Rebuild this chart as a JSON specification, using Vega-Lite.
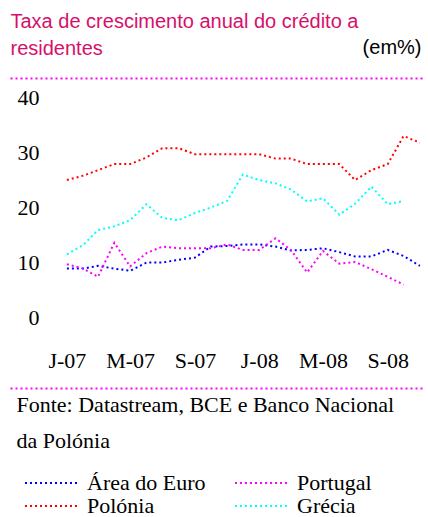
{
  "$schema": "https://vega.github.io/schema/vega-lite/v6.json",
  "width": 412,
  "height": 220,
  "autosize": {"type": "none"},
  "padding": {"left": 10, "top": 97, "right": 6, "bottom": 200},
  "background": "white",
  "config": {
    "view": {"stroke": null},
    "axis": {"grid": false, "labelFont": "Liberation Serif", "labelFontSize": 22, "labelColor": "#000000"},
    "legend": {"labelFont": "Liberation Serif"}
  },
  "datasets": {
    "credit": [
      {"series": "Área do Euro", "date": "2007-01-01", "value": 8.8},
      {"series": "Área do Euro", "date": "2007-02-01", "value": 8.8},
      {"series": "Área do Euro", "date": "2007-03-01", "value": 9.3},
      {"series": "Área do Euro", "date": "2007-04-01", "value": 8.8},
      {"series": "Área do Euro", "date": "2007-05-01", "value": 8.4},
      {"series": "Área do Euro", "date": "2007-06-01", "value": 9.9},
      {"series": "Área do Euro", "date": "2007-07-01", "value": 9.9},
      {"series": "Área do Euro", "date": "2007-08-01", "value": 10.4},
      {"series": "Área do Euro", "date": "2007-09-01", "value": 10.8},
      {"series": "Área do Euro", "date": "2007-10-01", "value": 12.8},
      {"series": "Área do Euro", "date": "2007-11-01", "value": 12.9},
      {"series": "Área do Euro", "date": "2007-12-01", "value": 13.2},
      {"series": "Área do Euro", "date": "2008-01-01", "value": 13.2},
      {"series": "Área do Euro", "date": "2008-02-01", "value": 12.8},
      {"series": "Área do Euro", "date": "2008-03-01", "value": 12.1},
      {"series": "Área do Euro", "date": "2008-04-01", "value": 12.2},
      {"series": "Área do Euro", "date": "2008-05-01", "value": 12.5},
      {"series": "Área do Euro", "date": "2008-06-01", "value": 11.8},
      {"series": "Área do Euro", "date": "2008-07-01", "value": 11.0},
      {"series": "Área do Euro", "date": "2008-08-01", "value": 11.0},
      {"series": "Área do Euro", "date": "2008-09-01", "value": 12.2},
      {"series": "Área do Euro", "date": "2008-10-01", "value": 11.1},
      {"series": "Área do Euro", "date": "2008-11-01", "value": 9.3},
      {"series": "Polónia", "date": "2007-01-01", "value": 24.9},
      {"series": "Polónia", "date": "2007-02-01", "value": 25.7},
      {"series": "Polónia", "date": "2007-03-01", "value": 26.7},
      {"series": "Polónia", "date": "2007-04-01", "value": 27.8},
      {"series": "Polónia", "date": "2007-05-01", "value": 27.8},
      {"series": "Polónia", "date": "2007-06-01", "value": 29.0},
      {"series": "Polónia", "date": "2007-07-01", "value": 30.7},
      {"series": "Polónia", "date": "2007-08-01", "value": 30.7},
      {"series": "Polónia", "date": "2007-09-01", "value": 29.6},
      {"series": "Polónia", "date": "2007-10-01", "value": 29.6},
      {"series": "Polónia", "date": "2007-11-01", "value": 29.6},
      {"series": "Polónia", "date": "2007-12-01", "value": 29.6},
      {"series": "Polónia", "date": "2008-01-01", "value": 29.6},
      {"series": "Polónia", "date": "2008-02-01", "value": 28.8},
      {"series": "Polónia", "date": "2008-03-01", "value": 28.8},
      {"series": "Polónia", "date": "2008-04-01", "value": 27.8},
      {"series": "Polónia", "date": "2008-05-01", "value": 27.8},
      {"series": "Polónia", "date": "2008-06-01", "value": 27.8},
      {"series": "Polónia", "date": "2008-07-01", "value": 24.9},
      {"series": "Polónia", "date": "2008-08-01", "value": 26.7},
      {"series": "Polónia", "date": "2008-09-01", "value": 27.8},
      {"series": "Polónia", "date": "2008-10-01", "value": 32.9},
      {"series": "Polónia", "date": "2008-11-01", "value": 31.7},
      {"series": "Portugal", "date": "2007-01-01", "value": 9.6},
      {"series": "Portugal", "date": "2007-02-01", "value": 8.8},
      {"series": "Portugal", "date": "2007-03-01", "value": 7.3},
      {"series": "Portugal", "date": "2007-04-01", "value": 13.5},
      {"series": "Portugal", "date": "2007-05-01", "value": 9.2},
      {"series": "Portugal", "date": "2007-06-01", "value": 11.6},
      {"series": "Portugal", "date": "2007-07-01", "value": 12.8},
      {"series": "Portugal", "date": "2007-08-01", "value": 12.5},
      {"series": "Portugal", "date": "2007-09-01", "value": 12.5},
      {"series": "Portugal", "date": "2007-10-01", "value": 12.5},
      {"series": "Portugal", "date": "2007-11-01", "value": 13.2},
      {"series": "Portugal", "date": "2007-12-01", "value": 12.2},
      {"series": "Portugal", "date": "2008-01-01", "value": 12.2},
      {"series": "Portugal", "date": "2008-02-01", "value": 14.3},
      {"series": "Portugal", "date": "2008-03-01", "value": 12.2},
      {"series": "Portugal", "date": "2008-04-01", "value": 8.1},
      {"series": "Portugal", "date": "2008-05-01", "value": 12.0},
      {"series": "Portugal", "date": "2008-06-01", "value": 9.7},
      {"series": "Portugal", "date": "2008-07-01", "value": 10.0},
      {"series": "Portugal", "date": "2008-08-01", "value": 8.7},
      {"series": "Portugal", "date": "2008-09-01", "value": 7.3},
      {"series": "Portugal", "date": "2008-10-01", "value": 5.9},
      {"series": "Grécia", "date": "2007-01-01", "value": 11.4},
      {"series": "Grécia", "date": "2007-02-01", "value": 13.1},
      {"series": "Grécia", "date": "2007-03-01", "value": 15.8},
      {"series": "Grécia", "date": "2007-04-01", "value": 16.5},
      {"series": "Grécia", "date": "2007-05-01", "value": 17.6},
      {"series": "Grécia", "date": "2007-06-01", "value": 20.5},
      {"series": "Grécia", "date": "2007-07-01", "value": 18.0},
      {"series": "Grécia", "date": "2007-08-01", "value": 17.6},
      {"series": "Grécia", "date": "2007-09-01", "value": 18.9},
      {"series": "Grécia", "date": "2007-10-01", "value": 19.9},
      {"series": "Grécia", "date": "2007-11-01", "value": 21.1},
      {"series": "Grécia", "date": "2007-12-01", "value": 25.9},
      {"series": "Grécia", "date": "2008-01-01", "value": 24.9},
      {"series": "Grécia", "date": "2008-02-01", "value": 24.3},
      {"series": "Grécia", "date": "2008-03-01", "value": 23.2},
      {"series": "Grécia", "date": "2008-04-01", "value": 21.0},
      {"series": "Grécia", "date": "2008-05-01", "value": 21.6},
      {"series": "Grécia", "date": "2008-06-01", "value": 18.6},
      {"series": "Grécia", "date": "2008-07-01", "value": 20.6},
      {"series": "Grécia", "date": "2008-08-01", "value": 23.7},
      {"series": "Grécia", "date": "2008-09-01", "value": 20.5},
      {"series": "Grécia", "date": "2008-10-01", "value": 21.1}
    ]
  },
  "data": {"name": "credit"},
  "resolve": {"axis": {"x": "independent"}},
  "layer": [
    {
      "mark": {"type": "line", "strokeWidth": 2, "strokeDash": [2, 3]},
      "encoding": {
        "x": {
          "field": "date",
          "type": "temporal",
          "scale": {
            "type": "utc",
            "nice": false,
            "domain": [
              {"year": 2006, "month": 9, "date": 15, "utc": true},
              {"year": 2008, "month": 11, "date": 5, "utc": true}
            ]
          },
          "axis": {
            "orient": "bottom",
            "offset": 71,
            "values": [
              {"year": 2007, "month": 1, "date": 1, "utc": true},
              {"year": 2007, "month": 5, "date": 1, "utc": true},
              {"year": 2007, "month": 9, "date": 1, "utc": true},
              {"year": 2008, "month": 1, "date": 1, "utc": true},
              {"year": 2008, "month": 5, "date": 1, "utc": true},
              {"year": 2008, "month": 9, "date": 1, "utc": true}
            ],
            "labelExpr": "slice(utcFormat(datum.value, '%b'), 0, 1) + '-' + utcFormat(datum.value, '%y')",
            "ticks": false,
            "tickSize": 0,
            "labelPadding": -21,
            "labelBaseline": "alphabetic",
            "labelAlign": "center",
            "labelFlush": false,
            "labelOverlap": false,
            "labelFont": "Liberation Serif",
            "labelFontSize": 22,
            "labelColor": "#000000",
            "domain": true,
            "domainColor": "#ff00ff",
            "domainDash": [2, 3],
            "domainWidth": 2,
            "grid": false,
            "title": ["Fonte: Datastream, BCE e Banco Nacional", "da Polónia"],
            "titleX": 6,
            "titleY": 23,
            "titleAlign": "left",
            "titleAnchor": "start",
            "titleBaseline": "alphabetic",
            "titleLineHeight": 36,
            "titleFont": "Liberation Serif",
            "titleFontSize": 22,
            "titleFontWeight": "normal",
            "titleColor": "#000000"
          }
        },
        "y": {
          "field": "value",
          "type": "quantitative",
          "scale": {"domain": [0, 40], "nice": false},
          "axis": {
            "orient": "left",
            "offset": -29,
            "values": [0, 10, 20, 30, 40],
            "ticks": false,
            "tickSize": 0,
            "domain": false,
            "grid": false,
            "labelPadding": 0,
            "labelAlign": "right",
            "labelBaseline": "middle",
            "labelFont": "Liberation Serif",
            "labelFontSize": 22,
            "labelColor": "#000000",
            "title": "(em%)",
            "titleAngle": 0,
            "titleX": 382,
            "titleY": -44,
            "titleAlign": "right",
            "titleBaseline": "alphabetic",
            "titleFont": "Liberation Sans",
            "titleFontSize": 20,
            "titleFontWeight": "normal",
            "titleColor": "#000000"
          }
        },
        "color": {
          "field": "series",
          "type": "nominal",
          "scale": {
            "domain": ["Área do Euro", "Portugal", "Polónia", "Grécia"],
            "range": ["#0000ff", "#ff00ff", "#ff0000", "#00ffff"]
          },
          "legend": {
            "orient": "none",
            "legendX": 14,
            "legendY": 375,
            "title": null,
            "columns": 2,
            "direction": "horizontal",
            "columnPadding": 28,
            "rowPadding": 1,
            "clipHeight": 22,
            "padding": 0,
            "symbolType": "stroke",
            "symbolSize": 2809,
            "symbolStrokeWidth": 2,
            "symbolDash": [2, 3],
            "labelFont": "Liberation Serif",
            "labelFontSize": 22,
            "labelColor": "#000000",
            "labelOffset": 8,
            "labelLimit": 300
          }
        }
      }
    },
    {
      "mark": {"type": "point", "opacity": 0},
      "encoding": {
        "x": {
          "field": "date",
          "type": "temporal",
          "axis": {
            "orient": "top",
            "offset": 19,
            "labels": false,
            "ticks": false,
            "grid": false,
            "domain": true,
            "domainColor": "#ff00ff",
            "domainDash": [2, 3],
            "domainWidth": 2,
            "title": ["Taxa de crescimento anual do crédito a", "residentes"],
            "titleX": 0,
            "titleY": -51,
            "titleAlign": "left",
            "titleAnchor": "start",
            "titleBaseline": "alphabetic",
            "titleLineHeight": 27,
            "titleFont": "Liberation Sans",
            "titleFontSize": 20,
            "titleFontWeight": "normal",
            "titleColor": "#d6106a"
          }
        }
      }
    }
  ]
}
